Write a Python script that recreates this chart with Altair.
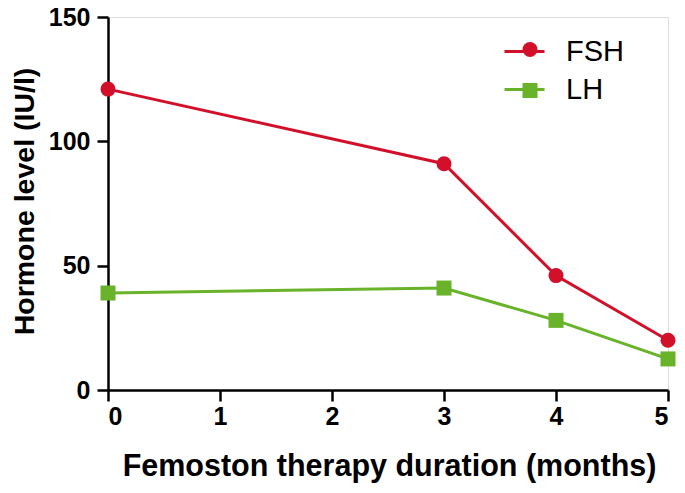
import altair as alt
import pandas as pd

months = [0, 3, 4, 5]
fsh = [121, 91, 46, 20]
lh = [39, 41, 28, 12.5]
series = ["FSH", "LH"]
colors = ["#d2102a", "#69b32a"]
shapes = ["circle", "square"]
x_ticks = [0, 1, 2, 3, 4, 5]
y_ticks = [0, 50, 100, 150]

rows = []
for m, v in zip(months, fsh):
    rows.append({"month": m, "value": v, "series": "FSH", "series_pt": "FSH"})
for m, v in zip(months, lh):
    rows.append({"month": m, "value": v, "series": "LH", "series_pt": "LH"})
df = pd.DataFrame(rows)

FONT = "Arial, Liberation Sans, sans-serif"

x = alt.X("month:Q",
          scale=alt.Scale(domain=[0, 5], nice=False, zero=False),
          axis=alt.Axis(values=x_ticks, title="Femoston therapy duration (months)",
                        grid=False, format="d", tickSize=11, tickWidth=2.5,
                        domainWidth=2.5, domainColor="black", tickColor="black",
                        labelFont=FONT, labelFontSize=25, labelFontWeight="bold",
                        labelColor="black", labelPadding=3,
                        titleFont=FONT, titleFontSize=30.5, titleFontWeight="bold",
                        titleColor="black", titleX=281, titleY=76,
                        titleBaseline="middle", titleAlign="center"))
y = alt.Y("value:Q",
          scale=alt.Scale(domain=[0, 150], nice=False),
          axis=alt.Axis(values=y_ticks, title="Hormone level (IU/l)",
                        grid=False, tickSize=11, tickWidth=2.5,
                        domainWidth=2.5, domainColor="black", tickColor="black",
                        labelFont=FONT, labelFontSize=25, labelFontWeight="bold",
                        labelColor="black", labelPadding=7,
                        titleFont=FONT, titleFontSize=28.5, titleFontWeight="bold",
                        titleColor="black", titleX=-84, titleY=184,
                        titleAngle=-90, titleBaseline="middle", titleAlign="center"))

line_color = alt.Color("series:N",
                       scale=alt.Scale(domain=series, range=colors),
                       legend=alt.Legend(title=None, orient="none", legendX=395, legendY=13,
                                         padding=0, symbolType="stroke",
                                         labelFont=FONT, labelFontSize=29, labelColor="black",
                                         symbolSize=1600, symbolStrokeWidth=3,
                                         labelOffset=20, rowPadding=1))
pt_legend = alt.Legend(title=None, orient="none", legendX=407.5, legendY=18,
                       padding=0, labelFont=FONT, labelFontSize=29,
                       labelOpacity=0, symbolSize=225,
                       symbolStrokeWidth=0, symbolOpacity=1,
                       labelOffset=20, rowPadding=11)
pt_color = alt.Color("series_pt:N",
                     scale=alt.Scale(domain=series, range=colors),
                     legend=pt_legend)
pt_shape = alt.Shape("series_pt:N",
                     scale=alt.Scale(domain=series, range=shapes),
                     legend=pt_legend)

lines = alt.Chart(df).mark_line(strokeWidth=3).encode(x=x, y=y, color=line_color)
points = alt.Chart(df).mark_point(filled=True, size=225, opacity=1).encode(
    x=x, y=y, color=pt_color, shape=pt_shape)

chart = (alt.layer(lines, points)
         .resolve_scale(color="independent", shape="independent")
         .resolve_legend(color="independent", shape="independent")
         .properties(
             width=560, height=373,
             autosize=alt.AutoSizeParams(type="none"),
             padding={"left": 100, "top": 9, "right": 9, "bottom": 95},
         ).configure_view(stroke=None).configure(background="white"))

chart.save("out.html", embed_options={"renderer": "svg", "actions": False})
